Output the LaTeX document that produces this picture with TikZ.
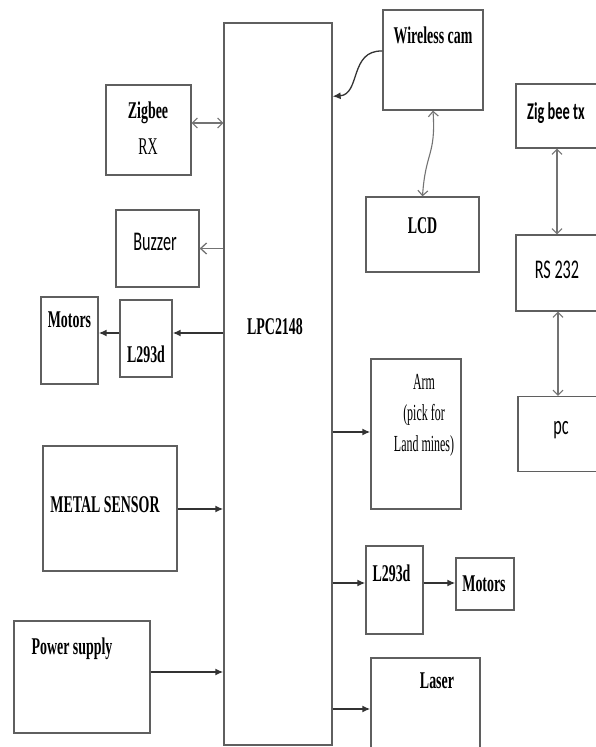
\documentclass[tikz,border=0pt]{standalone}
\usepackage{fontspec}
\usetikzlibrary{positioning,arrows.meta,calc}
\newfontfamily\serifcond{Liberation Serif}[FakeStretch=0.58]
\newfontfamily\serifnarrow{Liberation Serif}[FakeStretch=0.52]
\newfontfamily\sanscond{Carlito}[FakeStretch=0.6]
\definecolor{boxgray}{RGB}{95,95,95}
\definecolor{linkgray}{RGB}{115,115,115}

\begin{document}
\begin{tikzpicture}[x=1pt,y=-1pt,
    blk/.style={rectangle, draw=boxgray, line width=1.3pt, fill=white, inner sep=0pt},
    lbl/.style={font=\serifcond\bfseries\fontsize{24}{36}\selectfont, align=center, inner sep=0pt},
    lblr/.style={font=\serifnarrow\fontsize{23}{31}\selectfont, align=center, inner sep=0pt},
    lblc/.style={font=\sanscond\fontsize{27}{32}\selectfont, align=center, inner sep=0pt},
    farr/.style={-{Latex[length=8pt,width=7pt]}, line width=1.6pt, black!80},
    oarr/.style={-{Straight Barb[length=6pt,width=11pt]}, line width=1.3pt, linkgray},
    dbl/.style={{Straight Barb[length=5pt,width=10pt]}-{Straight Barb[length=5pt,width=10pt]}, line width=1.1pt, linkgray}
  ]
    \path[fill=white] (0,0) rectangle (596,747);
    \useasboundingbox (0,0) rectangle (596,747);

    % controller
    \node[blk, minimum width=108pt, minimum height=722pt] (lpc) at (278,384) {};
    \node[lbl] (lpctxt) at (275,327) {LPC2148};

    % left side
    \node[blk, minimum width=85pt, minimum height=90pt] (zrx) at (148.5,130) {};
    \node[lbl] (zrxtxt) at (148,128) {Zigbee\\\mdseries RX};
    \node[blk, minimum width=83pt, minimum height=77pt] (buzzer) at (157.5,248.5) {};
    \node[lblc] (buzzertxt) at (155,242) {Buzzer};
    \node[blk, minimum width=57pt, minimum height=87pt] (motL) at (69.5,340.5) {};
    \node[blk, minimum width=52pt, minimum height=77pt] (l293L) at (146,338.5) {};
    \node[blk, minimum width=134pt, minimum height=125pt] (metal) at (110,508.5) {};
    \node[blk, minimum width=136pt, minimum height=112pt] (power) at (82,677) {};

    \node[lbl, below=15pt of motL.north] (motLtxt) {Motors};
    \node[lbl, above=15pt of l293L.south] (l293Ltxt) {L293d};
    \node[lbl] (metaltxt) at (105,505) {METAL SENSOR};
    \node[lbl, below=17pt of power.north, xshift=-10pt] (powertxt) {Power supply};

    % right of controller
    \node[blk, minimum width=100pt, minimum height=100pt] (wcam) at (433,60) {};
    \node[lbl, below=17pt of wcam.north] (wcamtxt) {Wireless cam};
    \node[blk, minimum width=113pt, minimum height=75pt] (lcd) at (422.5,234.5) {};
    \node[lbl] (lcdtxt) at (422.5,226) {LCD};
    \node[blk, minimum width=90pt, minimum height=150pt] (arm) at (416,434) {};
    \node[lblr, below=16pt of arm.north, xshift=8pt] (armtxt) {Arm\\(pick for\\Land mines)};
    \node[blk, minimum width=57pt, minimum height=88pt] (l293R) at (394.5,590) {};
    \node[lbl, below=19pt of l293R.north, xshift=-3pt] (l293Rtxt) {L293d};
    \node[blk, minimum width=58pt, minimum height=52pt] (motR) at (485,584) {};
    \node[lbl] (motRtxt) at (484,584) {Motors};
    \node[blk, minimum width=109pt, minimum height=102pt] (laser) at (425.5,709) {};
    \node[lbl, below=15pt of laser.north, xshift=11.5pt] (lasertxt) {Laser};

    % pc link
    \node[blk, minimum width=82pt, minimum height=64pt] (ztx) at (557,116) {};
    \node[lblc, font=\sanscond\bfseries\fontsize{24}{30}\selectfont] (ztxtxt) at (556,113) {Zig bee tx};
    \node[blk, minimum width=84pt, minimum height=76pt] (rs232) at (558,273) {};
    \node[lblc] (rs232txt) at (557,270) {RS 232};
    \node[blk, minimum width=82pt, minimum height=75pt] (pc) at (559,434) {};
    \node[lblc] (pctxt) at (561,430) {pc};

    % connections
    \draw[dbl] ([yshift=7pt]zrx.east) -- ([yshift=7pt]zrx.east -| lpc.west);
    \draw[oarr] (buzzer.east -| lpc.west) -- (buzzer.east);
    \draw[farr] ([yshift=5.5pt]l293L.east -| lpc.west) -- ([yshift=5.5pt]l293L.east);
    \draw[farr] ([yshift=5.5pt]l293L.west) -- ([yshift=5.5pt]l293L.west -| motL.east);
    \draw[farr] ([yshift=-0.5pt]metal.east) -- ([yshift=-0.5pt]metal.east -| lpc.west);
    \draw[farr] ([yshift=5pt]power.east) -- ([yshift=5pt]power.east -| lpc.west);

    \draw[farr, line width=1.3pt] ([yshift=9pt]wcam.west)
      .. controls +(-33,-1) and +(28,-2) .. ([yshift=-74pt]lpc.north east);
    \draw[dbl] (wcam.south) .. controls +(3,45) and +(3,-45) .. (lcd.north);
    \draw[farr] ([yshift=2pt]arm.west -| lpc.east) -- ([yshift=2pt]arm.west);
    \draw[farr] ([yshift=7pt]l293R.west -| lpc.east) -- ([yshift=7pt]l293R.west);
    \draw[farr] ([yshift=7pt]l293R.east) -- ([yshift=7pt]l293R.east -| motR.west);
    \draw[farr] (laser.west -| lpc.east) -- (laser.west);

    \draw[dbl] (ztx.south) -- (ztx.south |- rs232.north);
    \draw[dbl] (rs232.south) -- (rs232.south |- pc.north);
  \end{tikzpicture}
\end{document}
